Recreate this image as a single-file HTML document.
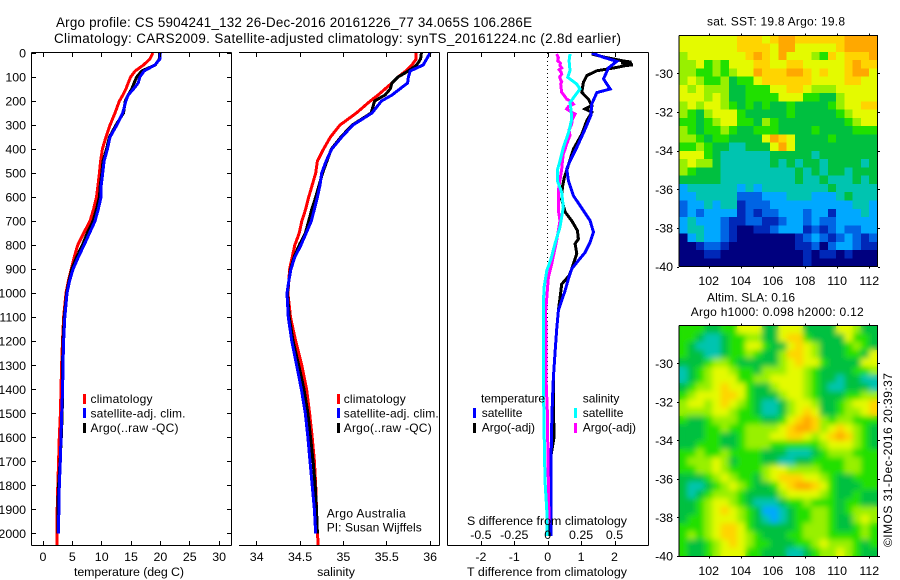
<!DOCTYPE html>
<html>
<head>
<meta charset="utf-8">
<title>Argo profile</title>
<style>
html,body{margin:0;padding:0;background:#fff;}
svg{display:block;}
text{font-family:"Liberation Sans",sans-serif;font-size:12px;fill:#000;}
.t{font-size:13.4px;}
.tk{font-size:12.4px;}
</style>
</head>
<body>
<svg id="fig" xmlns="http://www.w3.org/2000/svg" width="900" height="580" viewBox="0 0 900 580">
<rect width="900" height="580" fill="#fff"/>
<defs>
<clipPath id="clipSst"><rect x="679" y="35" width="199" height="232"/></clipPath>
<clipPath id="clipSla"><rect x="679" y="325" width="199" height="232"/></clipPath>
<filter id="soft" x="-5%" y="-5%" width="110%" height="110%"><feGaussianBlur stdDeviation="3"/></filter>
</defs>
<text class="t" x="56" y="27" textLength="476">Argo profile: CS 5904241_132 26-Dec-2016 20161226_77 34.065S 106.286E</text>
<text class="t" x="54" y="43" textLength="567">Climatology: CARS2009. Satellite-adjusted climatology: synTS_20161224.nc (2.8d earlier)</text>

<g id="heat"></g>
<g id="prof"></g>
<g id="axes" shape-rendering="crispEdges"></g>

<text x="129" y="576" text-anchor="middle" class="tk" textLength="110">temperature (deg C)</text>
<text x="336" y="576" text-anchor="middle" class="tk">salinity</text>
<text x="547" y="576" text-anchor="middle" class="tk" textLength="160">T difference from climatology</text>
<text x="547" y="525" text-anchor="middle" class="tk" textLength="160">S difference from climatology</text>

<g>
<rect shape-rendering="crispEdges" x="83" y="394" width="3" height="10" fill="#f00"/>
<rect shape-rendering="crispEdges" x="83" y="408" width="3" height="10" fill="#00f"/>
<rect shape-rendering="crispEdges" x="83" y="423" width="3" height="10" fill="#000"/>
<text x="90.5" y="403" textLength="62">climatology</text>
<text x="90.5" y="417.5" textLength="95">satellite-adj. clim.</text>
<text x="90.5" y="432" textLength="88">Argo(..raw -QC)</text>
</g>
<g>
<rect shape-rendering="crispEdges" x="337" y="394" width="3" height="10" fill="#f00"/>
<rect shape-rendering="crispEdges" x="337" y="408" width="3" height="10" fill="#00f"/>
<rect shape-rendering="crispEdges" x="337" y="423" width="3" height="10" fill="#000"/>
<text x="343.7" y="403" textLength="62">climatology</text>
<text x="343.7" y="417.5" textLength="95">satellite-adj. clim.</text>
<text x="343.7" y="432" textLength="88">Argo(..raw -QC)</text>
</g>
<text x="326.7" y="517.7" textLength="79">Argo Australia</text>
<text x="326.7" y="531.7" textLength="95">PI: Susan Wijffels</text>
<g>
<text x="481" y="402.7" textLength="64">temperature</text>
<rect shape-rendering="crispEdges" x="473" y="408" width="3" height="10" fill="#00f"/>
<text x="481.7" y="417">satellite</text>
<rect shape-rendering="crispEdges" x="473" y="423" width="3" height="10" fill="#000"/>
<text x="481.7" y="431.5">Argo(-adj)</text>
<text x="582.7" y="402.7">salinity</text>
<rect shape-rendering="crispEdges" x="574" y="408" width="3" height="10" fill="#0ff"/>
<text x="582.7" y="417">satellite</text>
<rect shape-rendering="crispEdges" x="574" y="423" width="3" height="10" fill="#f0f"/>
<text x="582.7" y="431.5">Argo(-adj)</text>
</g>

<text x="707" y="25.7" textLength="138">sat. SST: 19.8 Argo: 19.8</text>
<text x="707" y="301.7" textLength="88">Altim. SLA: 0.16</text>
<text x="690.7" y="316" textLength="173">Argo h1000: 0.098 h2000: 0.12</text>
<text transform="translate(892,547) rotate(-90)" textLength="174">©IMOS 31-Dec-2016 20:39:37</text>
</svg>

<script>
// ---------- profile data ----------
var depthLevels=[0,25,50,75,100,125,150,175,200,250,300,350,400,450,500,550,600,650,700,750,800,850,900,950,1000,1100,1200,1300,1400,1500,1600,1700,1800,1900,2000,2050];
var tempClim=[18.8,18.3,17.2,15.8,15.0,14.6,14.2,13.7,13.1,12.35,11.5,10.8,10.2,9.9,9.7,9.45,9.2,8.7,8.1,7.0,6.0,5.4,4.9,4.4,4.0,3.6,3.4,3.25,3.15,3.05,2.86,2.75,2.6,2.5,2.5,2.47];
var tempSat=[20.07,20.0,19.15,17.3,16.6,16.3,15.5,14.6,14.2,13.66,12.65,11.5,11.05,10.5,10.25,10.0,9.97,9.5,8.95,8.0,7.07,6.1,5.2,4.6,4.17,3.8,3.6,3.5,3.42,3.27,3.15,3.03,2.86,2.8,2.7];
var tempArgo=[19.9,19.9,19.2,16.9,16.05,15.6,15.2,14.6,14.1,13.8,12.5,11.4,10.9,10.3,10.1,9.85,9.7,9.2,8.6,7.6,6.8,5.8,5.0,4.5,4.1,3.7,3.5,3.42,3.4,3.35,3.2,3.0,2.75,2.6,2.6];
var salClim=[35.84,35.84,35.79,35.72,35.63,35.56,35.48,35.4,35.31,35.15,34.96,34.85,34.77,34.7,34.68,34.64,34.6,34.565,34.52,34.49,34.44,34.41,34.38,34.37,34.36,34.39,34.45,34.52,34.575,34.61,34.64,34.665,34.68,34.69,34.7,34.71];
var salSat=[36.0,35.96,35.92,35.77,35.75,35.74,35.65,35.56,35.44,35.33,35.11,34.98,34.865,34.8,34.75,34.73,34.7,34.665,34.63,34.57,34.51,34.44,34.395,34.37,34.35,34.365,34.405,34.46,34.515,34.56,34.59,34.615,34.64,34.665,34.68];
var salArgo=[35.9,35.89,35.845,35.75,35.63,35.56,35.54,35.48,35.36,35.32,35.1,34.97,34.86,34.81,34.76,34.72,34.68,34.635,34.6,34.56,34.49,34.43,34.39,34.37,34.355,34.375,34.42,34.485,34.545,34.59,34.62,34.65,34.675,34.69,34.7];

// ---------- difference profiles ----------
var dTSatDepth=[0,18,35,40,62,108,150,165,212,260,317,393,449,483,531,594,656,698,746,788,830,864,899,941,989,1030,1072,1150,1250,1350,1450,1550,1700,1850,2010];
var dTSat=[1.32,1.67,2.07,2.02,1.82,1.67,1.87,1.47,1.32,1.29,1.12,.87,.67,.57,.62,.77,1.07,1.27,1.37,1.27,1.12,.92,.72,.62,.52,.42,.32,.27,.22,.17,.14,.12,.1,.1,.1];
var dTArgoDepth=[4,18,32,38,41,43,46,49,53,60,74,94,122,164,192,219,233,247,282,338,400,476,517,558,610,662,698,739,774,794,836,878,899,927,962,1017,1072,1150,1250,1350,1450,1600,1700,1850,2010];
var dTArgo=[1.32,1.72,2.22,2.5,2.2,2.52,2.3,2.55,2.32,2.07,1.47,1.17,1.07,1.02,1.22,1.32,1.12,1.32,1.17,1.02,.77,.6,.5,.44,.42,.52,.72,.89,.92,.82,.87,.77,.72,.64,.42,.37,.32,.27,.22,.17,.17,.19,.07,.05,.05];
var dSSatDepth=[4,32,74,101,129,150,206,240,275,324,394,449,483,531,580,642,725,794,857,906,975,1044,1364,1572,1780,1905,2010];
var dSSat=[.167,.16,.167,.15,.217,.242,.167,.175,.18,.16,.117,.092,.075,.072,.105,.117,.092,.055,.025,-.007,-.027,-.032,-.032,-.027,-.02,-.007,-.007];
var dSArgoDepth=[4,20,32,42,53,62,70,80,88,100,110,120,129,145,164,178,192,203,213,223,233,243,254,275,296,320,344,360,379,400,421,450,483,572,656,698,780,878,933,1017,1072,1364,1500,1700,1900,1960];
var dSArgo=[.067,.08,.075,.095,.092,.105,.085,.1,.105,.09,.095,.105,.097,.1,.105,.125,.142,.18,.192,.155,.142,.17,.205,.185,.18,.16,.167,.155,.142,.13,.117,.11,.105,.08,.08,.092,.067,.03,.005,-.007,-.015,-.012,-.002,.002,.008,.008];

// ---------- tick labels ----------
var depthTicks=[0,100,200,300,400,500,600,700,800,900,1000,1100,1200,1300,1400,1500,1600,1700,1800,1900,2000];
var tempTicks=[0,5,10,15,20,25,30];
var salTicks=[34,34.5,35,35.5,36];
var dTTicks=[-2,-1,0,1,2];
var dSTicks=[-0.5,-0.25,0,0.25,0.5];
var lonTicks=[102,104,106,108,110,112];
var latTicks=[-30,-32,-34,-36,-38,-40];

// ---------- maps: one character per cell, colour level 0-a ----------
var sstGrid=[
"888888899989aa999999aaaa",
"888888899998aa888889aaaa",
"788888889a98a8887698999a",
"778676888998899888889a99",
"776676788a999aa989889aa8",
"787667566899999988889988",
"878777556668899877788888",
"888787556666888665578888",
"787887656565565555678899",
"765788865555565555567888",
"665678866576555555556788",
"765667655666555565555666",
"77656655558a985555655555",
"667655445558a85555555555",
"888654444445555545555555",
"787754444445454554555545",
"765554444444445454554555",
"555554444444445445444545",
"344444434344444444544444",
"334444422233344433345444",
"233434412223333333333443",
"232333312122333233133343",
"343332112211233232233333",
"344332100112333121232233",
"034332100000001232123212",
"001221000000001120233211",
"000110000000000101101000",
"000000000000000100000000"
];
var slaGrid=[
"666556688855888555588755",
"665445667755899655558665",
"654445668865589875556765",
"655445667655799875556658",
"555677655555789886555588",
"456788766577788765555667",
"456788866778888765545544",
"567789886557888765445554",
"678889986555788765556677",
"788789876544578875567889",
"777788766544578985567789",
"655677766655689a97677666",
"55566766777789aa97898765",
"5556655677788998789a9765",
"556665567776666667888765",
"667667666655544456777666",
"677787566655445566667766",
"667787666678877776667766",
"555678766578999887655666",
"54456787655689aa98655566",
"545677765555788887655655",
"556788765444566766656655",
"556789876533456677656777",
"566788876543456677655787",
"666789986555556777655676",
"676789987655566777666676",
"655678987665556678777656",
"655678886655544567787655"
];

// ---------- scales ----------
function yD(d){return 53+0.2402*d;}
function xTemp(v){return 42.5+5.87*v;}
function xSal(v){return 256.7+86.7*(v-34);}
function xDT(v){return 547.7+33.4*v;}
function xDS(v){return 547.7+133.6*v;}
function xLon(v){return 708.7+16.06*(v-102);}
function ySst(v){return 73.3+19.33*(-30-v);}
function ySla(v){return 363.3+19.27*(-30-v);}

var NS='http://www.w3.org/2000/svg';
var gProf=document.getElementById('prof'),gAxes=document.getElementById('axes'),gHeat=document.getElementById('heat'),fig=document.getElementById('fig');

function mk(tag,parent,attrs){
  var e=document.createElementNS(NS,tag);
  for(var k in attrs)e.setAttribute(k,attrs[k]);
  parent.appendChild(e);
  return e;
}

function profile(parent,depths,vals,xf,color,name,w){
  var d='';
  for(var i=0;i<vals.length&&i<depths.length;i++){
    d+=(i?'L':'M')+xf(vals[i]).toFixed(1)+' '+yD(depths[i]).toFixed(1);
  }
  var p=mk('path',parent,{d:d,fill:'none',stroke:color,'stroke-width':w||3,'stroke-linejoin':'miter','shape-rendering':'crispEdges'});
  
  
  return p;
}

function seg(x1,y1,x2,y2,name){
  var l=mk('line',gAxes,{x1:x1,y1:y1,x2:x2,y2:y2,stroke:'#000','stroke-width':1});
  
  
}

function label(str,x,y,anchor,name){
  var t=mk('text',fig,{x:x,y:y,'text-anchor':anchor,'class':'tk'});
  t.textContent=str;
  
  
}

// ---------- maps ----------
var levelColors={'0':'#00007f','1':'#0028b8','2':'#0064e4','3':'#00a8ff','4':'#00c4b0','5':'#00c040','6':'#20e000','7':'#98f000','8':'#e4fa00','9':'#ffd400','a':'#ffa800'};
var lonWest=100.17,lonEast=112.5,latTop=-28.03,latBottom=-40;
function drawGrid(parent,grid,yf,name){
  var rows=grid.length;
  for(var r=0;r<rows;r++){
    var row=grid[r];
    var cols=row.length;
    for(var c=0;c<cols;c++){
      var x0=xLon(lonWest+(lonEast-lonWest)*c/cols),x1=xLon(lonWest+(lonEast-lonWest)*(c+1)/cols);
      var y0=yf(latTop+(latBottom-latTop)*r/rows),y1=yf(latTop+(latBottom-latTop)*(r+1)/rows);
      var cell=mk('rect',parent,{x:x0.toFixed(2),y:y0.toFixed(2),width:(x1-x0+.6).toFixed(2),height:(y1-y0+.6).toFixed(2),fill:levelColors[row.charAt(c)]});
      
      
    }
  }
}
var sstGroup=mk('g',gHeat,{'clip-path':'url(#clipSst)','shape-rendering':'crispEdges'});


drawGrid(sstGroup,sstGrid,ySst,'sst-cell');
var slaGroup=mk('g',gHeat,{'clip-path':'url(#clipSla)'});


drawGrid(slaGroup,slaGrid,ySla,'sla-cell');
var slaSoft=mk('g',slaGroup,{filter:'url(#soft)'});


drawGrid(slaSoft,slaGrid,ySla,'sla-cell');

// ---------- profiles ----------
profile(gProf,depthLevels,tempClim,xTemp,'#f00','temperature-climatology-line');
profile(gProf,depthLevels,tempArgo,xTemp,'#000','temperature-argo-line');
profile(gProf,depthLevels,tempSat,xTemp,'#00f','temperature-satellite-line');
profile(gProf,depthLevels,salClim,xSal,'#f00','salinity-climatology-line');
profile(gProf,depthLevels,salArgo,xSal,'#000','salinity-argo-line');
profile(gProf,depthLevels,salSat,xSal,'#00f','salinity-satellite-line');

var zeroLine=mk('line',gProf,{x1:547.5,y1:53,x2:547.5,y2:yD(2000),stroke:'#000','stroke-width':1,'stroke-dasharray':'1 3','shape-rendering':'crispEdges'});


profile(gProf,dTArgoDepth,dTArgo,xDT,'#000','t-difference-argo-line');
profile(gProf,dTSatDepth,dTSat,xDT,'#00f','t-difference-satellite-line');
profile(gProf,dSArgoDepth,dSArgo,xDS,'#f0f','s-difference-argo-line');
profile(gProf,dSSatDepth,dSSat,xDS,'#0ff','s-difference-satellite-line');

// ---------- axes ----------
var top1=52.5,bot1=545.5;
// panel 1
seg(31.5,top1,231.5,top1,'temperature-top-axis');
seg(31.5,bot1,231.5,bot1,'temperature-bottom-axis');
seg(31.5,top1,31.5,bot1,'temperature-left-axis');
seg(231.5,top1,231.5,bot1,'temperature-right-axis');
// panel 2
seg(239,top1,439.5,top1,'salinity-top-axis');
seg(239,bot1,439.5,bot1,'salinity-bottom-axis');
seg(439.5,top1,439.5,bot1,'salinity-right-axis');
// panel 3
seg(447.5,top1,648.5,top1,'difference-top-axis');
seg(447.5,bot1,648.5,bot1,'difference-bottom-axis');
seg(447.5,top1,447.5,bot1,'difference-left-axis');
seg(648.5,top1,648.5,bot1,'difference-right-axis');

depthTicks.forEach(function(d){
  var y=Math.round(yD(d))+.5;
  seg(32,y,36,y,'depth-tick-left');
  seg(227,y,231,y,'depth-tick-right');
  label(d,26,yD(d)+4.5,'end','depth-tick-label');
});
tempTicks.forEach(function(v){
  var x=Math.round(xTemp(v))+.5;
  seg(x,53,x,57,'temperature-tick-top');
  seg(x,541,x,545,'temperature-tick-bottom');
  label(v,xTemp(v)+.5,561,'middle','temperature-tick-label');
});
salTicks.forEach(function(v){
  var x=Math.floor(xSal(v))+.5;
  seg(x,53,x,57,'salinity-tick-top');
  seg(x,541,x,545,'salinity-tick-bottom');
  label(v,xSal(v),561,'middle','salinity-tick-label');
});
dTTicks.forEach(function(v){
  var x=Math.round(xDT(v))+.5;
  seg(x,53,x,57,'t-difference-tick-top');
  seg(x,541,x,545,'t-difference-tick-bottom');
  label(v,xDT(v),561,'middle','t-difference-tick-label');
});
dSTicks.forEach(function(v){
  label(v,xDS(v),539,'middle','s-difference-tick-label');
});

function mapFrame(prefix,t,b,yf){
  seg(679,t,878,t,prefix+'-top-axis');
  seg(679,b,878,b,prefix+'-bottom-axis');
  seg(679,t,679,b,prefix+'-left-axis');
  seg(877.5,t,877.5,b,prefix+'-right-axis');
  lonTicks.forEach(function(v){
    var x=Math.round(xLon(v))+.5;
    seg(x,t-2,x,t,prefix+'-lon-tick-top');
    seg(x,b,x,b+2,prefix+'-lon-tick-bottom');
    label(v,xLon(v),b+18.5,'middle',prefix+'-lon-tick-label');
  });
  latTicks.forEach(function(v){
    var y=Math.round(yf(v))+.5;
    seg(677,y,679,y,prefix+'-lat-tick-left');
    seg(878,y,880,y,prefix+'-lat-tick-right');
    label(v,673,yf(v)+4.5,'end',prefix+'-lat-tick-label');
  });
}
mapFrame('sst',35.5,266.5,ySst);
mapFrame('sla',325.5,556.5,ySla);
</script>
</body>
</html>
